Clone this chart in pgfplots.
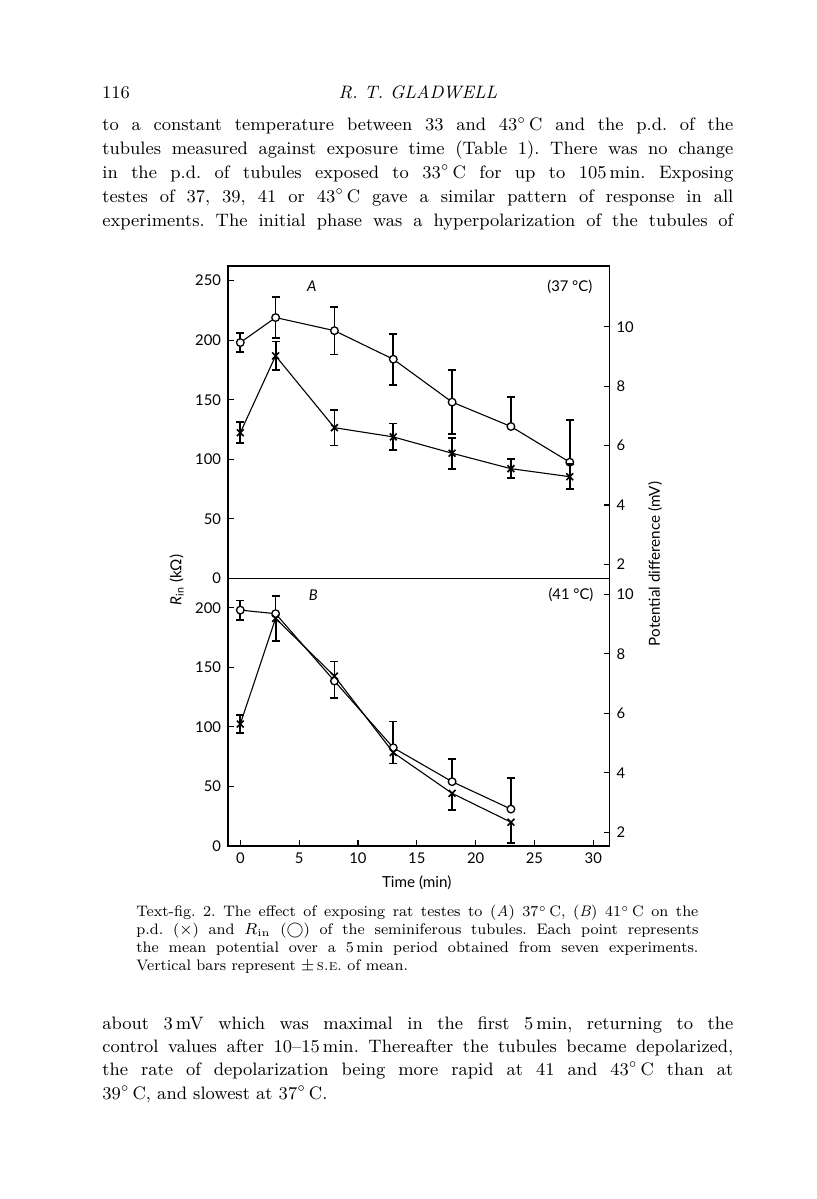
\documentclass[border=0pt]{standalone}
\usepackage{fontspec}
\usepackage{pgfplots}
\pgfplotsset{compat=1.18}
\newfontfamily\chartfont{Lato}
\newcommand{\cf}{\chartfont\fontsize{7.4}{8.8}\selectfont}
\pgfplotsset{
  base/.style={scale only axis, width=190.75pt, xmin=-1.045, xmax=31.376,
    axis line style={line width=0.75pt}, tick align=inside, major tick length=3pt,
    tick style={line width=0.6pt, black}, ticklabel style={font=\cf},
    /pgf/number format/assume math mode=true, clip=false},
  rinstyle/.style={black, line width=0.55pt, mark=*, mark size=1.9pt, mark options={fill=white, draw=black, line width=0.65pt}},
  pdstyle/.style={black, line width=0.55pt, mark=x, mark size=2.4pt, mark options={draw=black, line width=0.8pt}},
  eb/.style={black, draw=none, mark=none, forget plot, error bars/.cd, y dir=#1, y explicit,
    error bar style={draw=black, line width=0.9pt}, error mark options={rotate=90, draw=black, mark size=2pt, line width=0.9pt}},
}
\newcommand{\jl}[1]{\makebox[315.5pt][s]{#1}}
\newcommand{\cl}[1]{\makebox[281pt][s]{#1}}
\frenchspacing
\begin{document}
\begin{tikzpicture}
\path[use as bounding box, fill=white] (0,0) rectangle (408pt,-599.5pt);
% page text
\begin{scope}[every node/.style={anchor=base west, inner sep=0pt, font=\fontsize{9}{11}\selectfont}]
\node at (50.85pt,-49.15pt) {116};
\node[anchor=base] at (209pt,-49.15pt) {\textit{R. T. GLADWELL}};
\node at (51pt,-65.35pt) {\jl{to a constant temperature between 33 and 43$^\circ$\,C and the p.d. of the}};
\node at (51pt,-77.25pt) {\jl{tubules measured against exposure time (Table 1). There was no change}};
\node at (51pt,-89.15pt) {\jl{in the p.d. of tubules exposed to 33$^\circ$\,C for up to 105\,min. Exposing}};
\node at (51pt,-101.05pt) {\jl{testes of 37, 39, 41 or 43$^\circ$\,C gave a similar pattern of response in all}};
\node at (51pt,-113pt) {\jl{experiments. The initial phase was a hyperpolarization of the tubules of}};
\node at (51pt,-514.5pt) {\jl{about 3\,mV which was maximal in the first 5\,min, returning to the}};
\node at (51pt,-526.15pt) {\jl{control values after 10--15\,min. Thereafter the tubules became depolarized,}};
\node at (51pt,-537.8pt) {\jl{the rate of depolarization being more rapid at 41 and 43$^\circ$\,C than at}};
\node at (51pt,-549.5pt) {39$^\circ$\,C, and slowest at 37$^\circ$\,C.};
\end{scope}
\begin{scope}[every node/.style={anchor=base west, inner sep=0pt, font=\fontsize{7.6}{9}\selectfont}]
\node at (68pt,-458.35pt) {\cl{Text-fig. 2. The effect of exposing rat testes to (\textit{A}) 37$^\circ$\,C, (\textit{B}) 41$^\circ$\,C on the}};
\node at (68pt,-467.25pt) {\cl{p.d. ($\times$) and $R_{\mathrm{in}}$ ($\bigcirc$) of the seminiferous tubules. Each point represents}};
\node at (68pt,-476.15pt) {\cl{the mean potential over a 5\,min period obtained from seven experiments.}};
\node at (68pt,-485pt) {Vertical bars represent $\pm$\,\textsc{s.e.} of mean.};
\end{scope}
% ---------- Panel A ----------
\begin{axis}[base, at={(114pt,-133pt)}, anchor=north west, height=156.15pt,
  ymin=0, ymax=262.3, ytick={0,50,100,150,200,250}, xtick=\empty, ytick pos=left]
\addplot[eb=both] coordinates {(0,198) +- (0,8) (3,219) +- (0,17) (8,208) +- (0,20) (13,184) +- (0,21.5) (18,148) +- (0,27)};
\addplot[eb=plus] coordinates {(23,127.5) +- (0,24.5) (28,97.5) +- (0,35.5)};
\addplot[rinstyle] coordinates {(0,198) (3,219) (8,208) (13,184) (18,148) (23,127.5) (28,97.5)};
\node[font=\cf\itshape] at (axis cs:6.07,245) {A};
\node[font=\cf] at (axis cs:28,245) {(37 °C)};
\end{axis}
\begin{axis}[base, at={(114pt,-133pt)}, anchor=north west, height=156.15pt,
  ymin=1.529, ymax=12.044, ytick={2,4,6,8,10}, xtick=\empty, ytick pos=right]
\addplot[eb=both] coordinates {(0,6.43) +- (0,0.35) (3,9.02) +- (0,0.48) (8,6.60) +- (0,0.6) (13,6.29) +- (0,0.45) (18,5.74) +- (0,0.52) (23,5.22) +- (0,0.32) (28,4.95) +- (0,0.42)};
\addplot[pdstyle] coordinates {(0,6.43) (3,9.02) (8,6.60) (13,6.29) (18,5.74) (23,5.22) (28,4.95)};
\end{axis}
% ---------- Panel B ----------
\begin{axis}[base, at={(114pt,-289.15pt)}, anchor=north west, height=133.85pt,
  ymin=0, ymax=224.7, ytick={0,50,100,150,200}, xtick={0,5,10,15,20,25,30}, tick pos=left]
\addplot[eb=both] coordinates {(0,198) +- (0,8)};
\addplot[eb=plus] coordinates {(3,195) +- (0,15) (13,82.5) +- (0,22) (18,54) +- (0,19) (23,31) +- (0,26)};
\addplot[eb=minus] coordinates {(8,138.5) +- (0,14)};
\addplot[rinstyle] coordinates {(0,198) (3,195) (8,138.5) (13,82.5) (18,54) (23,31)};
\node[font=\cf\itshape] at (axis cs:6.2,210.6) {B};
\node[font=\cf] at (axis cs:28.1,210.6) {(41 °C)};
\end{axis}
\begin{axis}[base, at={(114pt,-289.15pt)}, anchor=north west, height=133.85pt,
  ymin=1.5395, ymax=10.538, ytick={2,4,6,8,10}, xtick=\empty, ytick pos=right]
\addplot[eb=both] coordinates {(0,5.64) +- (0,0.3)};
\addplot[eb=plus] coordinates {(8,7.25) +- (0,0.49)};
\addplot[eb=minus] coordinates {(3,9.19) +- (0,0.76) (13,4.68) +- (0,0.37) (18,3.31) +- (0,0.56) (23,2.34) +- (0,0.69)};
\addplot[pdstyle] coordinates {(0,5.64) (3,9.19) (8,7.25) (13,4.68) (18,3.31) (23,2.34)};
\end{axis}
% axis labels
\node[rotate=90, font=\chartfont\fontsize{7.6}{9}\selectfont] at (88.35pt,-290pt) {\textit{R}\textsubscript{in} (kΩ)};
\node[rotate=90, font=\chartfont\fontsize{7.6}{9}\selectfont] at (327.5pt,-282pt) {Potential difference (mV)};
\node[font=\chartfont\fontsize{7.6}{9}\selectfont] at (208.35pt,-441.35pt) {Time (min)};
\end{tikzpicture}
\end{document}
